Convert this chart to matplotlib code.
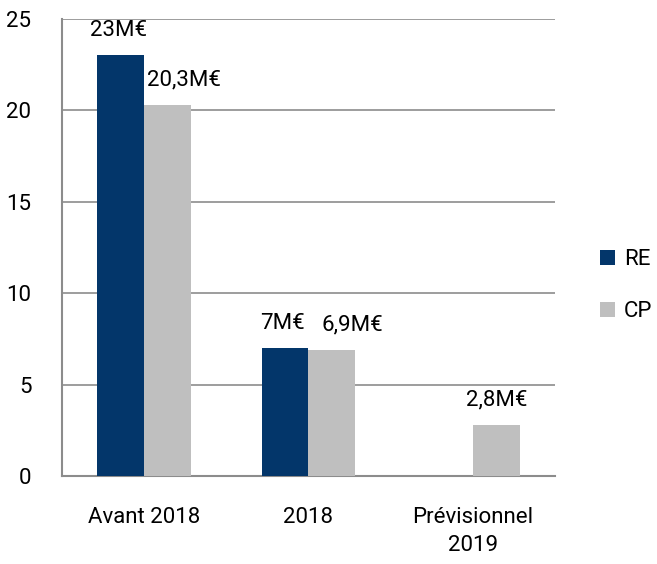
import matplotlib
matplotlib.use('Agg')
import matplotlib.pyplot as plt
import numpy as np

categories = ['Avant 2018', '2018', 'Prévisionnel\n2019']
re_values = [23, 7, 0]
cp_values = [20.3, 6.9, 2.8]
re_labels = ['23M€', '7M€', '']
cp_labels = ['20,3M€', '6,9M€', '2,8M€']

plt.rcParams['font.family'] = ['Roboto', 'DejaVu Sans']

fig = plt.figure(figsize=(6.57, 5.64), dpi=100)
ax = fig.add_axes([0.0944, 0.156, 0.7503, 0.8107])

x = np.arange(len(categories))
w = 0.286
navy = '#03366a'
grey = '#bfbfbf'

b1 = ax.bar(x - w/2, re_values, w, color=navy, label='RE', zorder=3)
b2 = ax.bar(x + w/2, cp_values, w, color=grey, label='CP', zorder=3)

# shift of the CP labels (in pixels) as in the original layout
cp_shift = [16, 20, 0]

for rect, lab in zip(b1, re_labels):
    if lab:
        ax.annotate(lab, (rect.get_x() + rect.get_width()/2, rect.get_height()),
                    xytext=(-2, 14), textcoords='offset pixels',
                    ha='center', va='bottom', fontsize=16)
for rect, lab, dx in zip(b2, cp_labels, cp_shift):
    ax.annotate(lab, (rect.get_x() + rect.get_width()/2, rect.get_height()),
                xytext=(dx, 14), textcoords='offset pixels',
                ha='center', va='bottom', fontsize=16)

ax.set_xlim(-0.5, 2.5)
ax.set_ylim(0, 25)
ax.set_yticks([0, 5, 10, 15, 20, 25])
ax.set_xticks(x)
ax.set_xticklabels(categories, fontsize=16, linespacing=1.45)
ax.tick_params(axis='y', labelsize=16, length=0, pad=22)
ax.tick_params(axis='x', length=0, pad=22)
ax.yaxis.grid(True, color='#8c8c8c', linewidth=1.2, zorder=0)
ax.set_axisbelow(True)

for s in ['top', 'right']:
    ax.spines[s].set_visible(False)
for s in ['left', 'bottom']:
    ax.spines[s].set_color('#8c8c8c')
    ax.spines[s].set_linewidth(1.5)

ax.legend(loc='center left', bbox_to_anchor=(1.05, 0.416), frameon=False, fontsize=16,
          handlelength=0.7, handleheight=0.7, handletextpad=0.4, labelspacing=1.4)

fig.savefig('out.png', dpi=100)
